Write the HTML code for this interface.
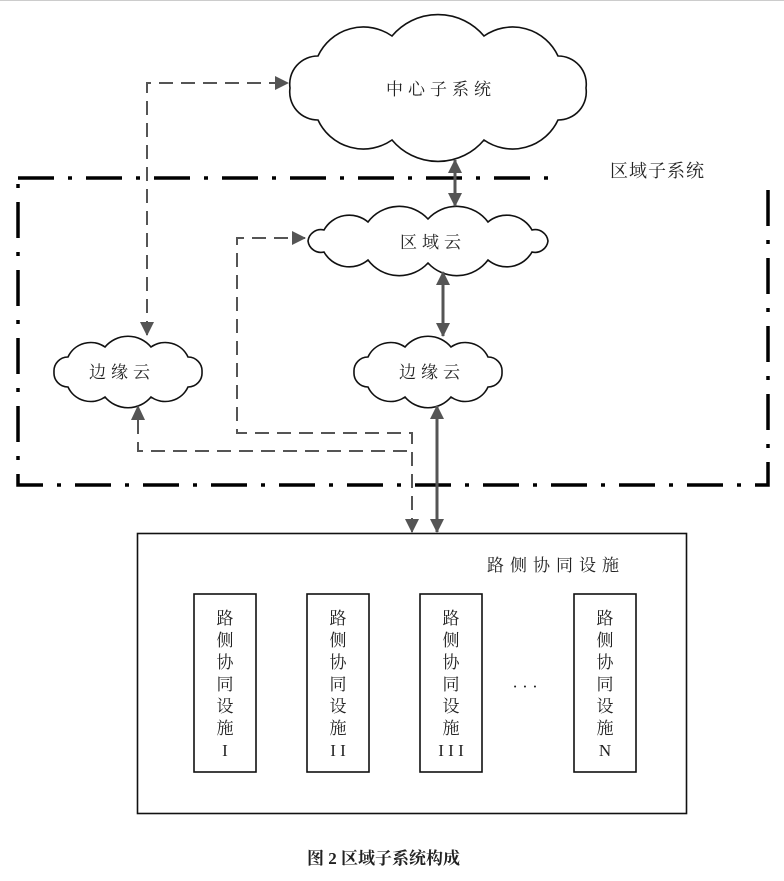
<!DOCTYPE html>
<html><head><meta charset="utf-8"><style>
body{margin:0;background:#fff}
svg text{font-family:"Liberation Serif","Noto Serif CJK SC","Noto Sans CJK SC",serif;fill:#222}
</style></head><body>
<svg width="784" height="876" viewBox="0 0 784 876" xmlns="http://www.w3.org/2000/svg">
<defs>
<marker id="b" markerWidth="14" markerHeight="14" refX="13" refY="7" orient="auto-start-reverse" markerUnits="userSpaceOnUse"><path d="M0,0 L14,7 L0,14 z" fill="#555"/></marker>
</defs>
<line x1="0" y1="0.5" x2="784" y2="0.5" stroke="#ccc"/>
<g stroke="#000" stroke-width="3.5" fill="none" stroke-dasharray="36,14,4,14">
<path d="M18,178 L550,178"/>
<path d="M768,190 L768,485 L18,485 L18,178"/>
</g>
<text x="610" y="177" font-size="18" letter-spacing="1" font-family="Liberation Sans,Noto Sans CJK SC,sans-serif">区域子系统</text>
<g fill="#fff" stroke="#111" stroke-width="1.6">
<path d="M586,88 A28,28 0 0 1 558,120 A50,50 0 0 1 484,140 A60,60 0 0 1 392,140 A50,50 0 0 1 318,120 A28,28 0 0 1 290,88 A28,28 0 0 1 318,56 A50,50 0 0 1 392,36 A60,60 0 0 1 484,36 A50,50 0 0 1 558,56 A28,28 0 0 1 586,88 Z"/>
<path d="M548,241 A13,13 0 0 1 532,252 A29,29 0 0 1 488,260 A39,39 0 0 1 428,263 A39,39 0 0 1 368,260 A29,29 0 0 1 324,252 A13,13 0 0 1 308,241 A13,13 0 0 1 324,230 A29,29 0 0 1 368,222 A39,39 0 0 1 428,219 A39,39 0 0 1 488,222 A29,29 0 0 1 532,230 A13,13 0 0 1 548,241 Z"/>
<path d="M202,372 A14,14 0 0 1 188,387 A25,25 0 0 1 151,397 A30,30 0 0 1 105,397 A25,25 0 0 1 68,387 A14,14 0 0 1 54,372 A14,14 0 0 1 68,357 A25,25 0 0 1 105,347 A30,30 0 0 1 151,347 A25,25 0 0 1 188,357 A14,14 0 0 1 202,372 Z"/>
<path d="M502,372 A14,14 0 0 1 488,387 A25,25 0 0 1 451,397 A30,30 0 0 1 405,397 A25,25 0 0 1 368,387 A14,14 0 0 1 354,372 A14,14 0 0 1 368,357 A25,25 0 0 1 405,347 A30,30 0 0 1 451,347 A25,25 0 0 1 488,357 A14,14 0 0 1 502,372 Z"/>
</g>
<g font-size="17" text-anchor="middle" letter-spacing="5">
<text x="441" y="95">中心子系统</text>
<text x="433" y="248">区域云</text>
<text x="122" y="378">边缘云</text>
<text x="432" y="378">边缘云</text>
</g>
<g stroke="#555" stroke-width="3" fill="none">
<line x1="455" y1="160" x2="455" y2="206" marker-start="url(#b)" marker-end="url(#b)"/>
<line x1="443" y1="272" x2="443" y2="336" marker-start="url(#b)" marker-end="url(#b)"/>
<line x1="437" y1="406" x2="437" y2="532" marker-start="url(#b)" marker-end="url(#b)"/>
</g>
<g stroke="#555" stroke-width="2" fill="none" stroke-dasharray="14,8">
<path d="M147,335 L147,83 L288,83" marker-start="url(#b)" marker-end="url(#b)"/>
<path d="M412,532 L412,433 L237,433 L237,238 L305,238" marker-start="url(#b)" marker-end="url(#b)"/>
<path d="M138,420 L138,451 L410,451"/>
</g>
<path d="M131,420 L138,405 L145,420Z" fill="#555"/>
<rect x="137.5" y="533.5" width="549" height="280" fill="none" stroke="#111" stroke-width="1.6"/>
<text x="487" y="571" font-size="17" letter-spacing="6">路侧协同设施</text>
<g fill="none" stroke="#111" stroke-width="1.6">
<rect x="194" y="594" width="62" height="178"/>
<rect x="307" y="594" width="62" height="178"/>
<rect x="420" y="594" width="62" height="178"/>
<rect x="574" y="594" width="62" height="178"/>
</g>
<g font-size="17" text-anchor="middle">
<text x="225" y="624">路</text><text x="225" y="646">侧</text><text x="225" y="668">协</text><text x="225" y="690">同</text><text x="225" y="712">设</text><text x="225" y="734">施</text><text x="225" y="756">I</text>
<text x="338" y="624">路</text><text x="338" y="646">侧</text><text x="338" y="668">协</text><text x="338" y="690">同</text><text x="338" y="712">设</text><text x="338" y="734">施</text><text x="338" y="756">I I</text>
<text x="451" y="624">路</text><text x="451" y="646">侧</text><text x="451" y="668">协</text><text x="451" y="690">同</text><text x="451" y="712">设</text><text x="451" y="734">施</text><text x="451" y="756">I I I</text>
<text x="605" y="624">路</text><text x="605" y="646">侧</text><text x="605" y="668">协</text><text x="605" y="690">同</text><text x="605" y="712">设</text><text x="605" y="734">施</text><text x="605" y="756">N</text>
<text x="525" y="692">· · ·</text>
</g>
<text x="307" y="864" font-size="17" font-weight="bold" font-family="Liberation Sans,Noto Sans CJK SC,sans-serif">图 2  区域子系统构成</text>
</svg>
</body></html>
